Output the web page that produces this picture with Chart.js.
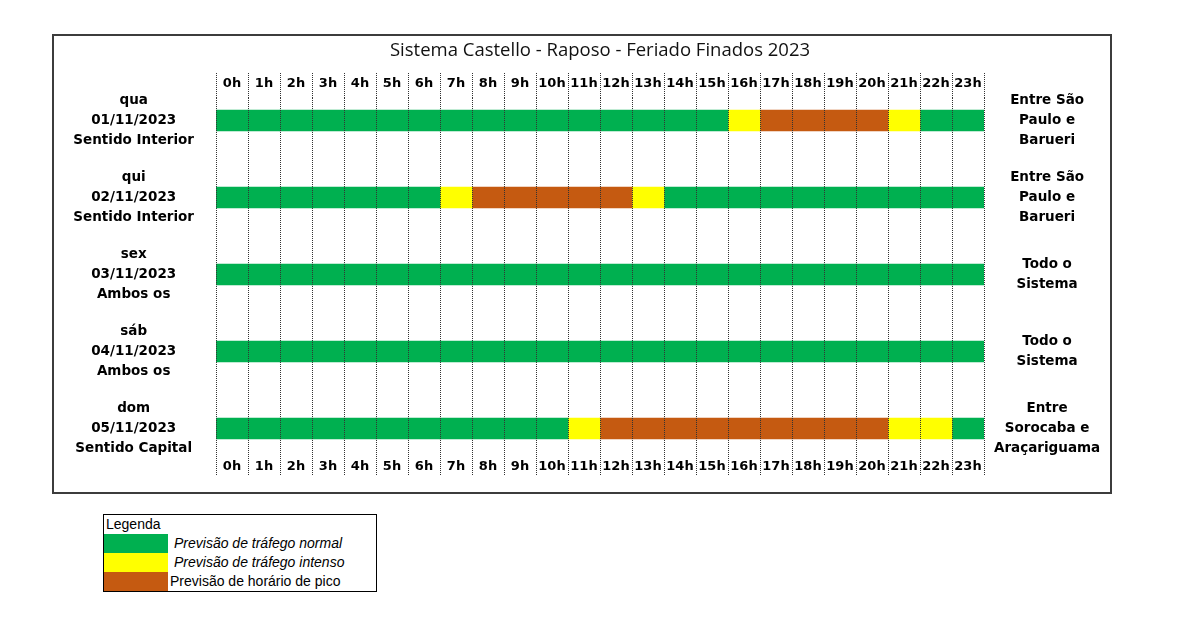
<!DOCTYPE html>
<html>
<head>
<meta charset="utf-8">
<script src="https://cdn.jsdelivr.net/npm/chart.js"></script>
<style>
  body { margin: 0; background: #fff; }
  #box { position: absolute; left: 52px; top: 34px; width: 1056px; height: 456px; border: 2px solid #3c3c3c; }
  #legend { position: absolute; left: 103px; top: 514px; width: 274px; border-collapse: collapse; border: 1px solid #000;
            font-family: 'Liberation Sans', Arial, sans-serif; font-size: 14px; color: #000; }
  #legend td { padding: 0; height: 19px; line-height: 19px; white-space: nowrap; }
  #legend td.sw { width: 64px; }
</style>
</head>
<body>
<div id="box"><canvas id="myChart" width="1056" height="456"></canvas></div>
<table id="legend"></table>
<script>
const hours = ['0h', '1h', '2h', '3h', '4h', '5h', '6h', '7h', '8h', '9h', '10h', '11h',
               '12h', '13h', '14h', '15h', '16h', '17h', '18h', '19h', '20h', '21h', '22h', '23h'];

const dayLabels = [
    ['qua', '01/11/2023', 'Sentido Interior'],
    ['qui', '02/11/2023', 'Sentido Interior'],
    ['sex', '03/11/2023', 'Ambos os'],
    ['sáb', '04/11/2023', 'Ambos os'],
    ['dom', '05/11/2023', 'Sentido Capital']
];

const stretchLabels = [
    ['Entre São', 'Paulo e', 'Barueri'],
    ['Entre São', 'Paulo e', 'Barueri'],
    ['Todo o', 'Sistema'],
    ['Todo o', 'Sistema'],
    ['Entre', 'Sorocaba e', 'Araçariguama']
];

// 0 = normal, 1 = intenso, 2 = pico (one value per hour)
const qua01 = [0, 0, 0, 0, 0, 0, 0, 0, 0, 0, 0, 0, 0, 0, 0, 0, 1, 2, 2, 2, 2, 1, 0, 0];
const qui02 = [0, 0, 0, 0, 0, 0, 0, 1, 2, 2, 2, 2, 2, 1, 0, 0, 0, 0, 0, 0, 0, 0, 0, 0];
const sex03 = [0, 0, 0, 0, 0, 0, 0, 0, 0, 0, 0, 0, 0, 0, 0, 0, 0, 0, 0, 0, 0, 0, 0, 0];
const sab04 = [0, 0, 0, 0, 0, 0, 0, 0, 0, 0, 0, 0, 0, 0, 0, 0, 0, 0, 0, 0, 0, 0, 0, 0];
const dom05 = [0, 0, 0, 0, 0, 0, 0, 0, 0, 0, 0, 1, 2, 2, 2, 2, 2, 2, 2, 2, 2, 1, 1, 0];

const legendLabels = ['Previsão de tráfego normal', 'Previsão de tráfego intenso', 'Previsão de horário de pico'];
const statusColors = ['#00b050', '#ffff00', '#c55a11'];

const rows = [qua01, qui02, sex03, sab04, dom05];

// one stacked segment per hour, each one hour long
const datasets = hours.map((h, i) => ({
    label: h,
    data: rows.map((r, j) => ({ x: 1, y: j })),
    backgroundColor: rows.map(r => statusColors[r[i]]),
    borderWidth: 0,
    barThickness: 21
}));

const hourTicks = (s) => { s.ticks = hours.map((h, i) => ({ value: i + 0.5 })); };
const rowTicks = (s) => { s.ticks = rows.map((r, j) => ({ value: j })); };
const fixHeight = (h) => (s) => { s.height = h; s.paddingLeft = 0; s.paddingRight = 0; };
const fixWidth = (w) => (s) => { s.width = w; s.paddingTop = 0; s.paddingBottom = 0; };

const hourFont = { family: "'DejaVu Sans'", size: 13, weight: 'bold' };
const rowFont = { family: "'DejaVu Sans'", size: 13.5, weight: 'bold', lineHeight: 1.48 };
const dotted = { color: '#333', lineWidth: 1, tickColor: '#333', tickBorderDash: [1, 1], offset: true };

const ctx = document.getElementById('myChart').getContext('2d');
const myChart = new Chart(ctx, {
    type: 'bar',
    data: { datasets: datasets },
    options: {
        responsive: false,
        animation: false,
        indexAxis: 'y',
        layout: { padding: { left: 0, right: 0, top: 0, bottom: 16 } },
        plugins: {
            legend: { display: false },
            tooltip: { enabled: false },
            title: {
                display: true,
                fullSize: false,
                text: 'Sistema Castello - Raposo - Feriado Finados 2023',
                color: '#111',
                font: { family: "'Open Sans'", size: 18.5, weight: 'normal' },
                padding: { top: 4, bottom: 0 }
            }
        },
        scales: {
            x: {
                type: 'linear', position: 'bottom', min: 0, max: 24, stacked: true,
                afterBuildTicks: hourTicks,
                afterFit: fixHeight(22),
                grid: Object.assign({ drawOnChartArea: true, tickLength: 22, z: 1 }, dotted),
                border: { display: false, dash: [1, 1] },
                ticks: { callback: (v, i) => hours[i], font: hourFont, color: '#000', padding: -17, autoSkip: false, maxRotation: 0 }
            },
            x2: {
                type: 'linear', position: 'top', min: 0, max: 24,
                afterBuildTicks: hourTicks,
                afterFit: fixHeight(35.8),
                grid: Object.assign({ drawOnChartArea: false, tickLength: 25 }, dotted),
                border: { display: false, dash: [1, 1] },
                ticks: { callback: (v, i) => hours[i], font: hourFont, color: '#000', padding: -18, autoSkip: false, maxRotation: 0 }
            },
            y: {
                type: 'linear', position: 'left', min: -0.292, max: 4.331, reverse: true, stacked: true, offset: false,
                afterBuildTicks: rowTicks,
                afterFit: fixWidth(162),
                grid: { display: false, drawTicks: false, offset: false },
                border: { display: false },
                ticks: { callback: (v, i) => dayLabels[i], font: rowFont, color: '#000', crossAlign: 'center', padding: 22, autoSkip: false }
            },
            y2: {
                type: 'linear', position: 'right', min: -0.292, max: 4.331, reverse: true, offset: false,
                afterBuildTicks: rowTicks,
                afterFit: fixWidth(126),
                grid: { display: false, drawTicks: false, offset: false },
                border: { display: false },
                ticks: { callback: (v, i) => stretchLabels[i], font: rowFont, color: '#000', crossAlign: 'center', padding: 10, autoSkip: false }
            }
        }
    }
});

// legend table
let html = '<tr><td colspan="2" style="padding-left:2px">Legenda</td></tr>';
legendLabels.forEach((t, i) => {
    const style = i < 2 ? 'font-style:italic;padding-left:6px' : 'padding-left:2px';
    html += '<tr><td class="sw" style="background:' + statusColors[i] + '"></td><td style="' + style + '">' + t + '</td></tr>';
});
document.getElementById('legend').innerHTML = html;
</script>
</body>
</html>
